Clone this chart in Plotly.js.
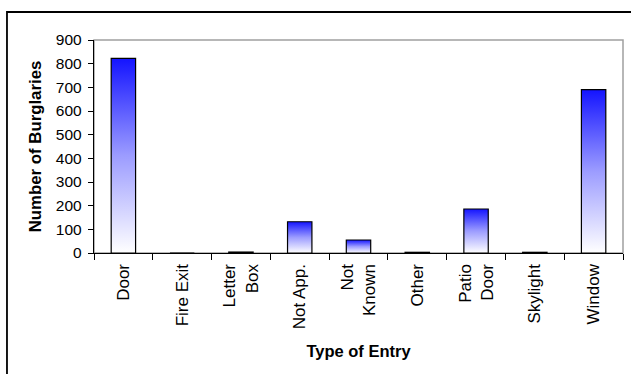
<!DOCTYPE html>
<html>
<head>
<meta charset="utf-8">
<script src="https://cdn.plot.ly/plotly-3.0.1.min.js"></script>
<style>
  html, body { margin: 0; padding: 0; background: #fff; }
  #chart { width: 631px; height: 374px; }
</style>
</head>
<body>
<div id="chart"></div>
<script>
var categories = ["Door", "Fire Exit", "Letter<br>Box", "Not App.", "Not<br>Known", "Other", "Patio<br>Door", "Skylight", "Window"];
var burglaries = [822, 0, 4, 132, 55, 3, 186, 3, 690];
var yTicks = [0, 100, 200, 300, 400, 500, 600, 700, 800, 900];

var FONT = "Liberation Sans, Arial, sans-serif";

var trace = {
  type: "bar",
  x: categories,
  y: burglaries,
  marker: { color: "#8080ff", line: { color: "#000000", width: 1.2 } },
  hoverinfo: "none"
};

var layout = {
  width: 631,
  height: 374,
  margin: { l: 94, r: 8, t: 40, b: 121 },
  paper_bgcolor: "#ffffff",
  plot_bgcolor: "#ffffff",
  showlegend: false,
  bargap: 0.585,
  font: { family: FONT, size: 15, color: "#000000" },
  xaxis: {
    type: "category",
    tickangle: -90,
    tickson: "boundaries",
    ticks: "outside",
    ticklen: 6,
    tickcolor: "#000000",
    tickwidth: 1,
    ticklabelstandoff: 3,
    showline: true,
    linecolor: "#000000",
    linewidth: 1.2,
    showgrid: false,
    zeroline: false,
    tickfont: { family: FONT, size: 17, color: "#000000" },
    title: { text: "<b>Type of Entry</b>", font: { family: FONT, size: 16.5, color: "#000000" }, standoff: 17 },
    automargin: false
  },
  yaxis: {
    range: [0, 900],
    tickvals: yTicks,
    ticktext: yTicks.map(String),
    ticks: "outside",
    ticklen: 5,
    tickcolor: "#000000",
    ticklabelstandoff: 3,
    showline: true,
    linecolor: "#000000",
    linewidth: 1.2,
    showgrid: false,
    zeroline: false,
    tickfont: { family: FONT, size: 15.5, color: "#000000" },
    title: { text: "<b>Number of Burglaries</b>", font: { family: FONT, size: 16.8, color: "#000000" }, standoff: 10 },
    automargin: false
  },
  shapes: [
    { type: "rect", xref: "paper", yref: "paper", x0: 0, x1: 1, y0: 0, y1: 1,
      line: { color: "#a0a0a0", width: 1.5 }, layer: "below" },
    { type: "rect", xref: "paper", yref: "paper",
      x0: -0.1645, x1: 1.1, y0: -0.7, y1: 1.1315,
      line: { color: "#000000", width: 1.8 }, layer: "above" }
  ]
};

Plotly.newPlot("chart", [trace], layout, { staticPlot: true, displayModeBar: false }).then(function (gd) {
  var svg = gd.querySelector("svg.main-svg");
  var ns = "http://www.w3.org/2000/svg";
  var defs = svg.querySelector("defs");
  if (!defs) { defs = document.createElementNS(ns, "defs"); svg.insertBefore(defs, svg.firstChild); }
  var grad = document.createElementNS(ns, "linearGradient");
  grad.setAttribute("id", "barGrad");
  grad.setAttribute("x1", "0"); grad.setAttribute("y1", "0");
  grad.setAttribute("x2", "0"); grad.setAttribute("y2", "1");
  [["0", "#1414ff"], ["0.5", "#9c9cff"], ["1", "#ffffff"]].forEach(function (s) {
    var st = document.createElementNS(ns, "stop");
    st.setAttribute("offset", s[0]);
    st.setAttribute("stop-color", s[1]);
    grad.appendChild(st);
  });
  defs.appendChild(grad);
  gd.querySelectorAll(".barlayer .point path").forEach(function (p) {
    p.style.fill = "url(#barGrad)";
  });
});
</script>
</body>
</html>
